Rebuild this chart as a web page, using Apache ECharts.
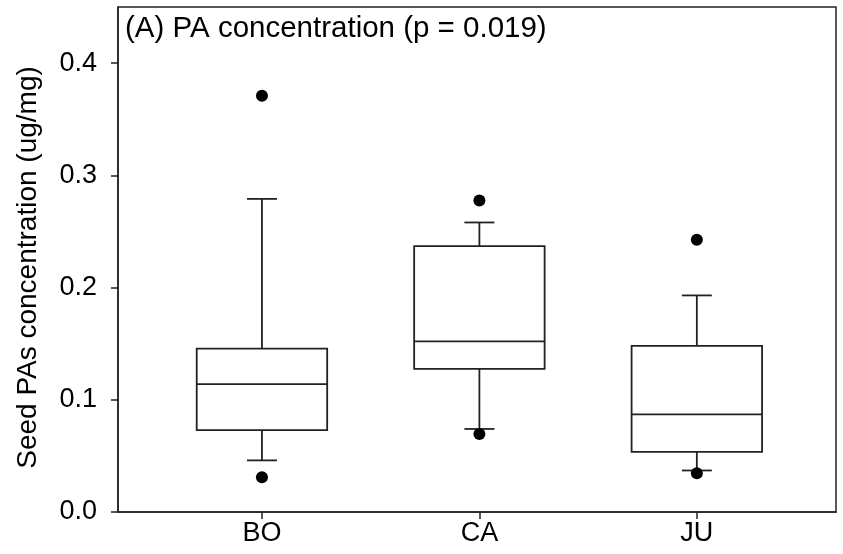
<!DOCTYPE html>
<html>
<head>
<meta charset="utf-8">
<script src="https://cdn.jsdelivr.net/npm/echarts@6/dist/echarts.min.js"></script>
<style>
  html, body { margin: 0; padding: 0; background: #fff; }
  #chart { width: 843px; height: 554px; }
</style>
</head>
<body>
<div id="chart"></div>
<script>
const categories = ['BO', 'CA', 'JU'];
// [lower whisker, Q1, median, Q3, upper whisker]
const boxStats = [
  [0.046, 0.073, 0.114, 0.1455, 0.279],
  [0.074, 0.1275, 0.152, 0.237, 0.258],
  [0.037, 0.0535, 0.087, 0.148, 0.193]
];
// [category index, value]
const outliers = [
  [0, 0.371], [0, 0.031],
  [1, 0.2775], [1, 0.0695],
  [2, 0.2425], [2, 0.0345]
];
const yTicks = [0, 0.1, 0.2, 0.3, 0.4];

const lineColor = '#222';
const textFont = '"Liberation Sans", Arial, sans-serif';

const chart = echarts.init(document.getElementById('chart'));

const boxData = boxStats.map((s, i) => [i + 1].concat(s));
const outlierData = outliers.map(o => [o[0] + 1, o[1]]);

chart.setOption({
  animation: false,
  grid: {
    left: 118, right: 7, top: 7, bottom: 42,
    show: true, borderColor: '#222', borderWidth: 1.5
  },
  title: {
    text: '(A) PA concentration (p = 0.019)',
    left: 120, top: 9,
    textStyle: { fontSize: 29.5, fontWeight: 'normal', color: '#000', fontFamily: textFont }
  },
  xAxis: {
    type: 'value',
    min: 0.338, max: 3.64,
    splitLine: { show: false },
    axisLine: { show: true, lineStyle: { color: '#222', width: 1.5 } },
    axisTick: { show: true, length: 7, customValues: [1, 2, 3], lineStyle: { color: '#222', width: 1.5 } },
    axisLabel: {
      customValues: [1, 2, 3],
      formatter: v => categories[Math.round(v) - 1] || '',
      color: '#000', fontSize: 27, fontFamily: textFont, margin: 8
    }
  },
  yAxis: {
    type: 'value',
    min: 0, max: 0.45,
    name: 'Seed PAs concentration (ug/mg)',
    nameLocation: 'middle',
    nameGap: 76,
    nameTextStyle: { fontSize: 28, color: '#000', fontFamily: textFont, padding: [0, 16, 0, 0] },
    splitLine: { show: false },
    axisLine: { show: true, lineStyle: { color: '#222', width: 1.5 } },
    axisTick: { show: true, length: 7, customValues: yTicks, lineStyle: { color: '#222', width: 1.5 } },
    axisLabel: {
      customValues: yTicks,
      formatter: v => v.toFixed(1),
      color: '#000', fontSize: 27, fontFamily: textFont, margin: 21
    }
  },
  series: [
    {
      type: 'custom',
      data: boxData,
      renderItem: (params, api) => {
        const x = api.value(0);
        const lo = api.value(1), q1 = api.value(2), med = api.value(3), q3 = api.value(4), hi = api.value(5);
        const half = 0.3, cap = 0.069;
        const pLeft = api.coord([x - half, q3]);
        const pRight = api.coord([x + half, q1]);
        const cx = api.coord([x, 0])[0];
        const capL = api.coord([x - cap, 0])[0];
        const capR = api.coord([x + cap, 0])[0];
        const yLo = api.coord([x, lo])[1];
        const yHi = api.coord([x, hi])[1];
        const yMed = api.coord([x, med])[1];
        const st = { stroke: lineColor, lineWidth: 1.8, fill: null };
        return {
          type: 'group',
          children: [
            { type: 'rect', shape: { x: pLeft[0], y: pLeft[1], width: pRight[0] - pLeft[0], height: pRight[1] - pLeft[1] }, style: Object.assign({}, st, { fill: '#fff' }) },
            { type: 'line', shape: { x1: pLeft[0], y1: yMed, x2: pRight[0], y2: yMed }, style: st },
            { type: 'line', shape: { x1: cx, y1: pLeft[1], x2: cx, y2: yHi }, style: st },
            { type: 'line', shape: { x1: cx, y1: pRight[1], x2: cx, y2: yLo }, style: st },
            { type: 'line', shape: { x1: capL, y1: yHi, x2: capR, y2: yHi }, style: st },
            { type: 'line', shape: { x1: capL, y1: yLo, x2: capR, y2: yLo }, style: st }
          ]
        };
      }
    },
    {
      type: 'scatter',
      data: outlierData,
      symbol: 'circle',
      symbolSize: 12,
      itemStyle: { color: '#000', opacity: 1 },
      z: 5
    }
  ]
});
</script>
</body>
</html>
